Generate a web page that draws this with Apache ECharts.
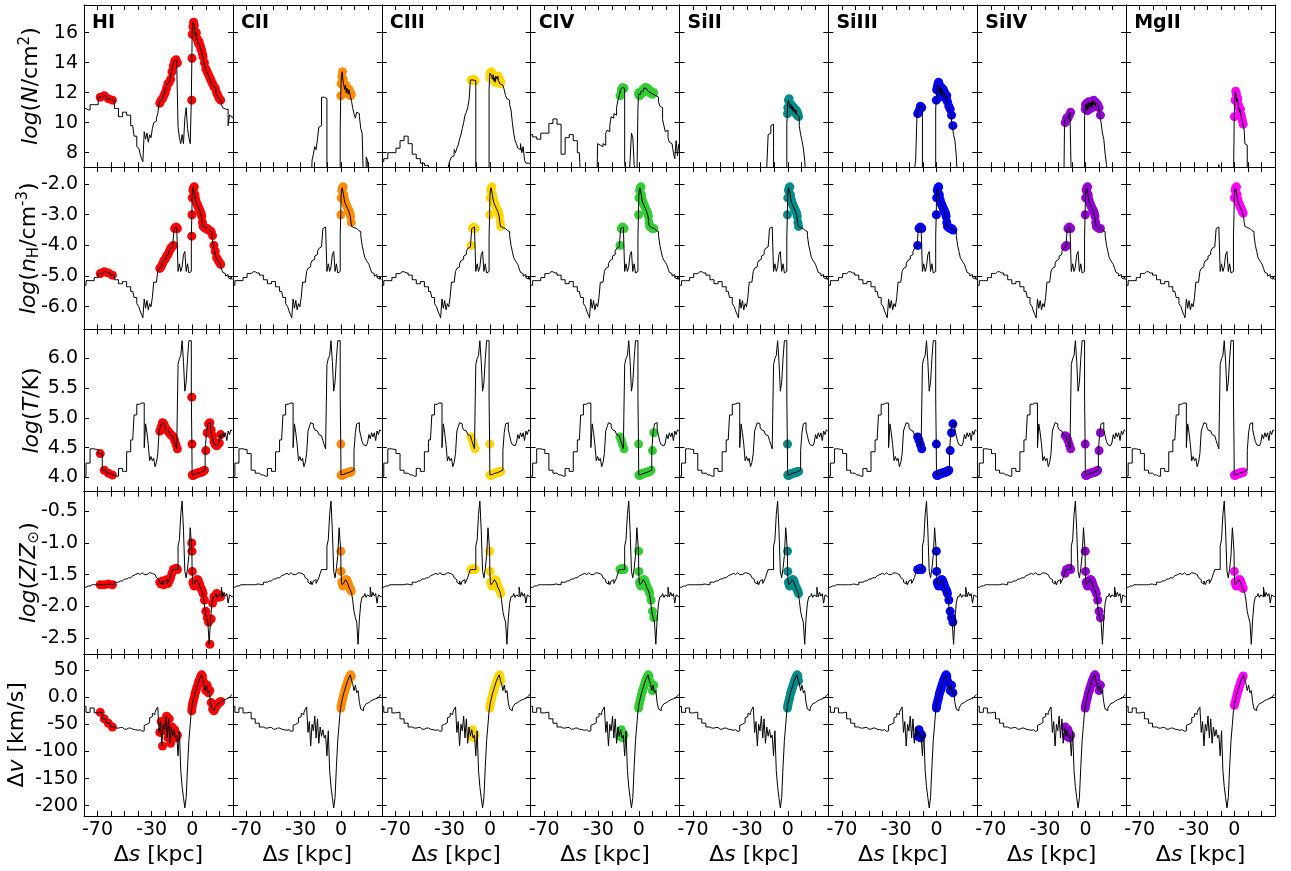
<!DOCTYPE html>
<html>
<head>
<meta charset="utf-8">
<title>sightline ion profiles</title>
<script src="https://cdn.jsdelivr.net/npm/echarts@6.0.0/dist/echarts.min.js"></script>
<style>
html,body{margin:0;padding:0;background:#fff;}
#chart{width:1291px;height:871px;}
</style>
</head>
<body>
<div id="chart"></div>
<script>
// cell centres along the sightline, kpc
var sKpc = [
	-80,-77,-74,-71,-68,-65,-62,-59,-56,-53,-50,-47,-44,-42,-40,
	-39,-38,-37,-36,-35,-34,-33,-32,-31,-30,-29,-28,-27,-26,-25,-24,-23,-22,-21,-20,
	-19,-18,-17,-16,-15,-14,-13,-12,-11,-10,-9,-8,-7,-6,-5,-4,-3,-2,-1,
	-0.4,-0.2,0,0.5,1,1.5,2,2.5,3,3.5,4,4.5,5,5.5,6,6.5,7,7.5,8,
	9,10,11,12,13,14,15,16,17,18,19,20,21,22,23,24,25,26,27,28,29,30
];

// column densities log(N/cm^2), one per ion (6 = nothing, below the axis)
var logN_HI = [
	10.95,10.85,11.2,11.2,11.7,11.8,11.6,11.5,10.95,10.4,10.7,10.5,9.8,9.1,8.4,
	8.3,7.9,7.6,7.4,9.4,8.9,9.3,8.7,9.2,9.0,9.6,10.0,10.1,10.3,10.6,11.3,11.5,11.6,11.8,12.0,
	12.3,12.6,12.7,12.9,13.4,13.8,14.1,14.2,14.0,9.7,9.0,8.6,9.2,8.6,10.3,11.0,9.6,9.0,8.6,
	11.5,14.3,15.9,16.4,16.7,16.5,16.1,15.8,16.0,15.6,15.5,15.3,15.4,15.2,15.1,14.9,14.8,14.6,14.4,
	14.0,13.6,13.4,13.2,13.0,12.8,12.6,12.4,12.3,12.0,11.8,11.6,11.5,11.2,11.0,10.9,10.8,10.9,9.8,10.5,10.4,10.3
];
var logN_CII = [
	6,6,6,6,6,6,6,6,6,6,6,6,6,6,6,
	6,6,6,6,6,6,6,6,6,6,6,6,6,6,6,6,6,6,7.5,7.9,
	8.4,8.2,8.9,9.7,9.8,11.7,11.7,11.65,11.6,6,6,6,6,6,6,6,6,6,6,
	9.5,11.8,12.6,13.1,13.4,12.9,12.6,12.4,12.2,12.5,12.0,12.3,12.1,11.9,12.2,12.0,11.8,11.9,11.4,
	11.0,10.6,10.3,10.7,10.6,10.4,9.6,9.3,6,6,7.7,7.5,6,6,6,6,6,6,6,6,6,6
];
var logN_CIII = [
	7.4,7.6,8.0,8.0,8.3,8.8,9.1,8.6,7.9,7.6,7.3,7.15,6,6,6,
	6,6,6,6,6,6,6,6,6.8,7.2,7.5,7.7,7.8,8.2,8.0,8.3,8.5,8.9,9.2,9.6,
	10.0,10.5,10.7,11.0,11.5,12.85,12.85,12.9,12.8,6,6,6,6,6,6,6,6,6,6,
	12.2,13.0,13.3,13.2,13.4,13.1,12.9,13.2,12.8,13.0,12.7,13.1,13.0,12.9,13.1,12.8,12.9,12.6,12.7,
	12.5,12.6,12.2,11.8,11.6,11.5,11.2,10.85,10.0,9.3,8.8,8.6,8.3,8.2,8.6,8.0,8.4,7.5,7.3,7.3,7.25,7.3
];
var logN_CIV = [
	9.2,9.05,8.9,9.3,9.3,9.95,10.25,9.9,7.9,9.0,9.2,8.8,8.0,6,6,
	6,6,6,6,6,6,6,6,6,8.6,8.5,8.5,8.4,8.6,8.5,9.3,9.5,9.4,9.8,10.4,
	10.3,10.6,10.5,11.0,11.5,11.8,12.2,12.35,12.3,7.3,6.5,7.0,6,7.5,9.3,9.0,7.2,6.5,6,
	11.0,11.9,12.0,11.8,12.0,11.9,12.1,12.0,12.2,12.1,12.3,12.2,12.35,12.3,12.2,12.3,12.1,12.2,12.0,
	12.1,11.9,12.0,11.8,11.9,11.7,11.4,11.1,11.0,10.2,9.8,9.4,9.5,9.0,8.7,8.6,8.5,8.0,7.6,8.8,7.8,8.6
];
var logN_SiII = [
	6,6,6,6,6,6,6,6,6,6,6,6,6,6,6,
	6,6,6,6,6,6,6,6,6,6,6,6,6,6,6,6,6,6,6,6,
	6,6,6,6,6,9.2,9.3,9.8,9.9,6,6,6,6,6,6,6,6,6,6,
	9.9,10.6,11.0,11.5,11.6,11.3,11.0,11.2,10.9,11.1,10.8,11.0,10.7,10.9,10.6,10.8,10.5,10.6,10.4,
	9.8,9.2,8.8,8.3,7.5,6,6,6,6,6,6,6,6,6,6,6,6,6,6,6,6,6
];
var logN_SiIII = [
	6,6,6,6,6,6,6,6,6,6,6,6,6,6,6,
	6,6,6,6,6,6,6,6,6,6,6,6,6,6,6,6,6,6,6,6,
	6,6,6,6.8,7.5,10.6,10.8,11.1,11.0,6,6,6,6,6,6,6,6,6,6,
	10.9,11.5,12.2,12.4,12.6,12.7,12.5,12.0,12.4,11.8,12.3,12.1,12.2,11.7,12.0,11.8,11.6,11.8,11.4,
	11.1,10.9,10.5,9.8,9.2,8.8,7.8,6,6,6,6,6,6,6,6,6,6,6,6,6,6,6
];
var logN_SiIV = [
	6,6,6,6,6,6,6,6,6,6,6,6,6,6,6,
	6,6,6,6,6,6,6,6,6,6,6,6,6,6,6,6,6,6,6,6,
	6,6,6,6,10.0,10.3,10.3,10.5,10.7,6,6,6,6,6,6,6,6,6,6,
	10.4,10.9,11.2,11.0,11.3,10.8,11.2,11.4,10.9,11.3,11.1,11.4,11.0,11.3,11.5,11.2,11.4,11.1,11.3,
	11.2,11.0,10.5,10.0,9.3,8.9,7.9,7.2,6,6,6,6,6,6,6,6,6,6,6,6,6,6
];
var logN_MgII = [
	6,6,6,6,6,6,6,6,6,6,6,6,6,6,6,
	6,6,6,6,6,6,6,6,6,6,6,6,6,6,6,6,6,6,6,6,
	6,6,6,6,6,6,6,6,7.2,6,6,6,6,6,6,6,6,6,6,
	6,6,10.4,11.5,12.1,11.9,11.4,11.6,11.2,11.0,10.7,10.9,10.5,10.3,10.1,9.9,9.8,9.5,8.6,
	8.5,6,6,6,6,6,6,6,6,6,6,6,6,6,6,6,6,6,6,6,6,6
];

// gas properties, same sightline for every ion
var logNh = [
	-5.3,-5.15,-5.15,-5.05,-4.92,-4.86,-4.9,-4.97,-5.12,-5.25,-5.18,-5.35,-5.5,-5.7,-5.9,
	-6.0,-6.14,-6.25,-6.36,-5.75,-6.05,-5.8,-6.1,-5.9,-6.0,-5.7,-5.2,-5.2,-5.15,-4.85,-4.75,-4.7,-4.6,-4.5,-4.45,
	-4.35,-4.3,-4.2,-4.1,-4.05,-4.0,-3.45,-3.4,-3.45,-4.85,-4.6,-4.85,-4.7,-4.3,-4.2,-4.85,-4.6,-4.9,-4.85,
	-3.7,-3.0,-2.45,-2.2,-2.12,-2.09,-2.35,-2.5,-2.6,-2.65,-2.7,-2.75,-2.8,-2.85,-2.9,-2.95,-3.05,-3.25,-3.38,
	-3.42,-3.45,-3.45,-3.5,-3.52,-3.55,-3.68,-4.0,-4.2,-4.4,-4.48,-4.55,-4.62,-4.75,-4.88,-4.92,-5.0,-4.95,-5.05,-5.1,-5.0,-5.12
];
var logT = [
	4.02,4.24,4.48,4.47,4.40,4.12,4.07,4.04,4.02,4.15,4.10,4.43,4.63,5.05,5.23,
	5.23,5.23,5.25,5.25,4.5,4.9,4.75,4.55,4.28,4.35,4.28,4.32,4.18,4.25,4.4,4.78,4.85,4.92,4.9,4.85,
	4.8,4.78,4.75,4.72,4.7,4.68,4.62,4.55,4.48,5.9,6.0,6.05,6.3,5.95,5.45,5.6,6.0,6.3,6.3,
	5.35,4.56,4.04,4.03,4.04,4.05,4.05,4.06,4.06,4.07,4.07,4.07,4.08,4.08,4.08,4.09,4.09,4.1,4.1,
	4.12,4.45,4.75,4.9,4.92,4.8,4.7,4.6,4.55,4.53,4.55,4.58,4.72,4.65,4.75,4.68,4.75,4.62,4.78,4.72,4.8,4.78
];
var logZ = [
	-1.70,-1.68,-1.66,-1.66,-1.66,-1.66,-1.65,-1.66,-1.62,-1.6,-1.57,-1.55,-1.52,-1.5,-1.48,
	-1.5,-1.48,-1.47,-1.5,-1.48,-1.5,-1.49,-1.47,-1.5,-1.48,-1.47,-1.5,-1.52,-1.55,-1.58,-1.62,-1.65,-1.6,-1.66,-1.6,
	-1.58,-1.64,-1.6,-1.55,-1.48,-1.42,-1.42,-1.4,-1.42,-1.05,-0.95,-0.55,-0.34,-0.8,-1.45,-1.55,-1.4,-1.2,-0.76,
	-1.0,-1.13,-1.45,-1.62,-1.66,-1.68,-1.66,-1.62,-1.6,-1.58,-1.58,-1.6,-1.63,-1.66,-1.7,-1.72,-1.74,-1.76,-1.8,
	-1.9,-2.08,-2.18,-2.25,-2.6,-2.2,-1.95,-1.85,-1.84,-1.8,-1.86,-1.82,-1.85,-1.7,-1.85,-1.78,-1.84,-1.8,-1.95,-1.82,-1.85,-1.84
];
var dv = [
	-17,-28,-20,-29,-28,-40,-48,-55,-57,-56,-59,-57,-59,-60,-61,
	-60,-62,-63,-62,-52,-50,-50,-47,-38,-36,-30,-32,-28,-22,-18,-65,-45,-90,-50,-62,
	-35,-75,-40,-85,-55,-72,-60,-75,-70,-108,-62,-135,-165,-185,-204,-185,-128,-80,-50,
	-25,-20,-15,-10,-5,0,6,10,14,18,22,26,30,33,36,39,41,38,30,
	25,12,22,8,12,-10,-22,-25,-20,-16,-12,-10,-8,-7,-5,-4,-3,-2,-1,1,3,5
];

// ions, their colours and the stretches of the sightline where each is picked out
var ionNames = ['HI','CII','CIII','CIV','SiII','SiIII','SiIV','MgII'];
var ionColors = ['#ff0000','#ff8c00','#ffd700','#32cd32','#008b8b','#0000ff','#9400d3','#ff00ff'];
var ionLogN = [logN_HI,logN_CII,logN_CIII,logN_CIV,logN_SiII,logN_SiIII,logN_SiIV,logN_MgII];
var ionRanges = [
	[[-68,-59],[-24,-11],[-0.4,21]],
	[[-0.2,7.5]],
	[[-14,-11],[-0.2,8.5]],
	[[-14,-11],[-0.2,11]],
	[[-0.2,8]],
	[[-14,-11],[-0.2,12]],
	[[-15,-11],[-0.2,11]],
	[[0,6.5]]
];

// x tick labels shown
var xTickLabels = [-70,-30,0];

var FONT = 'DejaVu Sans';
var GRID_LEFT = 84, GRID_TOP = 5, CELL_W = 148.875, CELL_H = 162.2;

var rowMin = [7.03,-6.74,3.76,-2.75,-218.9];
var rowMax = [17.85,-1.45,6.49,-0.19,79.8];
var rowStep = [2,1,0.5,0.5,50];
var rowTitles = [
	'{i|log}({i|N}/cm{sup|2})',
	'{i|log}({i|n}{sub|H}/cm{sup|-3})',
	'{i|log}({i|T}/K)',
	'{i|log}({i|Z}/{i|Z}{sub|⊙})',
	'Δ{i|v} [km/s]'
];
var rowTitleX = [31,29,32,29,17];

var RICH = {
	i:{fontStyle:'italic',fontSize:22,fontFamily:FONT,color:'#000',fill:'#000'},
	sup:{fontSize:15,fontFamily:FONT,color:'#000',fill:'#000',padding:[0,0,12,0]},
	sub:{fontSize:15,fontFamily:FONT,color:'#000',fill:'#000',padding:[10,0,0,0]}
};

function tickText(row,v){
	var k = v/rowStep[row];
	if (Math.abs(k-Math.round(k)) > 1e-6) return '';
	if (row === 0) return String(Math.round(v));
	if (row === 4) return v === 0 ? '0.0' : String(Math.round(v));
	return v.toFixed(1);
}

function inRanges(x,ranges){
	for (var i = 0; i < ranges.length; i++){
		if (x >= ranges[i][0]-1e-9 && x <= ranges[i][1]+1e-9) return true;
	}
	return false;
}

function makeXAxis(g,r,pos){
	var withLabels = pos === 'bottom' && r === 4;
	return {
		type:'value', gridIndex:g, position:pos,
		min:-80, max:30, interval:10,
		axisLine:{show:true,onZero:false,lineStyle:{color:'#000',width:1}},
		axisTick:{show:true,inside:true,length:5,lineStyle:{color:'#000',width:1}},
		axisLabel:{
			show:withLabels, margin:5, fontSize:19, fontFamily:FONT, color:'#000',
			formatter:function(v){ return xTickLabels.indexOf(v) >= 0 ? String(v) : ''; }
		},
		splitLine:{show:false},
		name: withLabels ? 'Δ{i|s} [kpc]' : '',
		nameLocation:'middle', nameGap:28,
		nameTextStyle:{fontSize:22,fontFamily:FONT,color:'#000',rich:RICH}
	};
}

function makeYAxis(g,r,c,pos){
	var withLabels = pos === 'left' && c === 0;
	return {
		type:'value', gridIndex:g, position:pos,
		min:rowMin[r], max:rowMax[r], splitNumber:5,
		axisLine:{show:true,onZero:false,lineStyle:{color:'#000',width:1}},
		axisTick:{show:true,inside:true,length:5,lineStyle:{color:'#000',width:1}},
		axisLabel:{
			show:withLabels, margin:6, fontSize:19, fontFamily:FONT, color:'#000',
			showMinLabel:false, showMaxLabel:false,
			formatter:function(v){ return tickText(r,v); }
		},
		splitLine:{show:false}
	};
}

function renderPanels(){
	var rowData = [null,logNh,logT,logZ,dv];
	var grids = [], xAxes = [], yAxes = [], series = [], graphics = [];

	for (var r = 0; r < 5; r++){
		for (var c = 0; c < 8; c++){
			var g = r*8+c;
			grids.push({
				left:GRID_LEFT+c*CELL_W, top:GRID_TOP+r*CELL_H,
				width:CELL_W, height:CELL_H,
				containLabel:false, outerBoundsMode:'none', show:false
			});
			xAxes.push(makeXAxis(g,r,'bottom'));
			xAxes.push(makeXAxis(g,r,'top'));
			yAxes.push(makeYAxis(g,r,c,'left'));
			yAxes.push(makeYAxis(g,r,c,'right'));

			var vals = r === 0 ? ionLogN[c] : rowData[r];
			var pts = [], dots = [];
			for (var i = 0; i < sKpc.length; i++){
				pts.push([sKpc[i],vals[i]]);
				if (inRanges(sKpc[i],ionRanges[c])) dots.push([sKpc[i],vals[i]]);
			}

			series.push({
				type:'scatter', xAxisIndex:2*g, yAxisIndex:2*g,
				data:dots, symbolSize:9, silent:true, z:2,
				itemStyle:{color:ionColors[c],opacity:1}
			});
			series.push({
				type:'line', xAxisIndex:2*g, yAxisIndex:2*g,
				data:pts, step:'middle', symbol:'none', silent:true, z:3, clip:true,
				lineStyle:{color:'#000',width:1}
			});
		}
	}

	// ion names in the top row
	for (var c2 = 0; c2 < 8; c2++){
		graphics.push({
			type:'text', x:GRID_LEFT+c2*CELL_W+8, y:23, z:10,
			style:{text:ionNames[c2],font:'bold 19px "DejaVu Sans"',fill:'#000',align:'left',verticalAlign:'middle'}
		});
	}
	// row titles
	for (var r2 = 0; r2 < 5; r2++){
		graphics.push({
			type:'text', x:rowTitleX[r2], y:GRID_TOP+r2*CELL_H+CELL_H/2, rotation:Math.PI/2, z:10,
			style:{
				text:rowTitles[r2], fontSize:22, fontFamily:FONT, fill:'#000',
				align:'center', verticalAlign:'middle', rich:RICH
			}
		});
	}

	var myChart = echarts.init(document.getElementById('chart'),null,{renderer:'canvas'});
	myChart.setOption({
		animation:false,
		backgroundColor:'#fff',
		grid:grids,
		xAxis:xAxes,
		yAxis:yAxes,
		series:series,
		graphic:{elements:graphics}
	});
}

renderPanels();
</script>
</body>
</html>
